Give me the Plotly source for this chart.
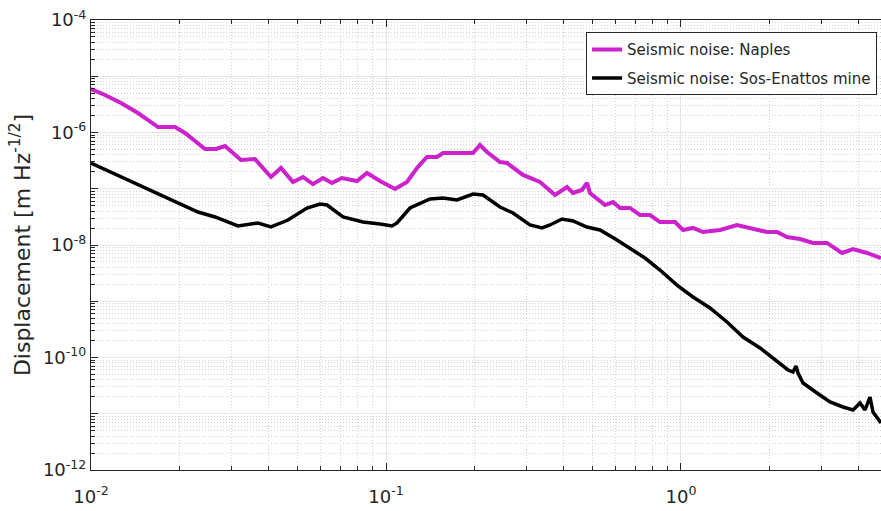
import plotly.graph_objects as go

# ---- data ----
naples_f = [0.01, 0.01115, 0.01264, 0.01443, 0.01687, 0.01927, 0.02083, 0.02435, 0.02653, 0.02846,
            0.03225, 0.03597, 0.04075, 0.04406, 0.04837, 0.05233, 0.05655, 0.06116, 0.0656, 0.07093,
            0.07974, 0.08622, 0.09544, 0.1073, 0.1178, 0.1274, 0.1377, 0.1489, 0.1561, 0.1781,
            0.1882, 0.1972, 0.2083, 0.22, 0.2435, 0.2572, 0.2913, 0.3327, 0.3741, 0.4108,
            0.4304, 0.4617, 0.4801, 0.4914, 0.5526, 0.5883, 0.6212, 0.6717, 0.7262, 0.7851,
            0.8488, 0.9544, 1.016, 1.098, 1.187, 1.356, 1.548, 1.713, 1.957, 2.116,
            2.288, 2.532, 2.803, 3.125, 3.514, 3.83, 4.272, 4.764]
naples_d = [5.93e-6, 4.64e-6, 3.34e-6, 2.22e-6, 1.25e-6, 1.25e-6, 9.80e-7, 5.09e-7, 5.09e-7, 5.75e-7,
            3.24e-7, 3.38e-7, 1.62e-7, 2.34e-7, 1.32e-7, 1.62e-7, 1.21e-7, 1.55e-7, 1.27e-7, 1.55e-7,
            1.37e-7, 1.91e-7, 1.37e-7, 9.90e-8, 1.32e-7, 2.34e-7, 3.67e-7, 3.67e-7, 4.32e-7, 4.32e-7,
            4.50e-7, 4.32e-7, 6.00e-7, 4.50e-7, 2.99e-7, 2.87e-7, 1.76e-7, 1.32e-7, 7.74e-8, 1.07e-7,
            8.40e-8, 9.50e-8, 1.27e-7, 8.40e-8, 5.14e-8, 5.81e-8, 4.55e-8, 4.55e-8, 3.41e-8, 3.41e-8,
            2.56e-8, 2.56e-8, 1.85e-8, 2.01e-8, 1.70e-8, 1.85e-8, 2.27e-8, 2.01e-8, 1.70e-8, 1.70e-8,
            1.39e-8, 1.28e-8, 1.09e-8, 1.09e-8, 7.21e-9, 8.49e-9, 7.21e-9, 5.87e-9]

sos_f = [0.01, 0.01264, 0.01648, 0.01972, 0.02305, 0.02633, 0.0315, 0.03682, 0.04075, 0.04653,
         0.05397, 0.05975, 0.0631, 0.0715, 0.08357, 0.09544, 0.1048, 0.109, 0.1206, 0.141,
         0.1561, 0.1741, 0.1972, 0.2132, 0.2435, 0.2695, 0.3077, 0.338, 0.3597, 0.3951,
         0.4304, 0.4801, 0.5314, 0.6069, 0.6717, 0.7551, 0.8488, 0.9692, 1.098, 1.254,
         1.432, 1.623, 1.853, 2.116, 2.306, 2.398, 2.454, 2.493, 2.592, 2.891,
         3.2, 3.541, 3.83, 4.045, 4.206, 4.373, 4.476, 4.764]
sos_d = [2.87e-7, 1.62e-7, 8.75e-8, 5.58e-8, 3.86e-8, 3.15e-8, 2.18e-8, 2.46e-8, 2.09e-8, 2.78e-8,
         4.55e-8, 5.36e-8, 5.14e-8, 3.15e-8, 2.56e-8, 2.36e-8, 2.18e-8, 2.46e-8, 4.55e-8, 6.57e-8,
         6.85e-8, 6.31e-8, 8.07e-8, 7.74e-8, 4.74e-8, 3.71e-8, 2.27e-8, 2.01e-8, 2.27e-8, 2.90e-8,
         2.67e-8, 2.09e-8, 1.85e-8, 1.23e-8, 8.84e-9, 5.87e-9, 3.59e-9, 1.94e-9, 1.19e-9, 7.59e-10,
         4.28e-10, 2.31e-10, 1.48e-10, 8.32e-11, 6.00e-11, 5.52e-11, 7.06e-11, 5.30e-11, 3.52e-11, 2.34e-11,
         1.62e-11, 1.32e-11, 1.17e-11, 1.55e-11, 1.17e-11, 1.98e-11, 1.07e-11, 6.85e-12]

x_ticks = [0.01, 0.1, 1]
x_labels = ["10<sup>-2</sup>", "10<sup>-1</sup>", "10<sup>0</sup>"]
y_ticks = [1e-12, 1e-11, 1e-10, 1e-9, 1e-8, 1e-7, 1e-6, 1e-5, 1e-4]
y_labels = ["10<sup>-12</sup>", "", "10<sup>-10</sup>", "", "10<sup>-8</sup>", "",
            "10<sup>-6</sup>", "", "10<sup>-4</sup>"]

TXT = "#262626"
FONT = "DejaVu Sans"

fig = go.Figure()
fig.add_trace(go.Scatter(x=naples_f, y=naples_d, mode="lines", name="Seismic noise: Naples",
                         line=dict(color="#cc22cc", width=4), legendgroup="a"))
fig.add_trace(go.Scatter(x=sos_f, y=sos_d, mode="lines", name="Seismic noise: Sos-Enattos mine",
                         line=dict(color="#000000", width=3.5), legendgroup="b"))

minor_common = dict(dtick="D1", showgrid=True, griddash="1px,2px", gridcolor="#d0d0d0", gridwidth=1,
                    ticks="inside", ticklen=4, tickcolor=TXT)

fig.update_xaxes(type="log", range=[-2, 0.678], tickvals=x_ticks, ticktext=x_labels,
                 showgrid=True, gridcolor="#e6e6e6", gridwidth=1,
                 ticks="inside", ticklen=7, tickcolor=TXT,
                 showline=True, linecolor=TXT, linewidth=1, mirror="ticks",
                 tickfont=dict(family=FONT, size=18, color=TXT), ticklabelstandoff=10,
                 minor=minor_common, zeroline=False)
fig.update_yaxes(type="log", range=[-12, -4], tickvals=y_ticks, ticktext=y_labels,
                 showgrid=True, gridcolor="#e6e6e6", gridwidth=1,
                 ticks="inside", ticklen=7, tickcolor=TXT,
                 showline=True, linecolor=TXT, linewidth=1, mirror=False,
                 tickfont=dict(family=FONT, size=18, color=TXT),
                 title=dict(text="Displacement [m Hz<sup>-1/2</sup>]",
                            font=dict(family=FONT, size=22, color=TXT), standoff=6),
                 minor=minor_common, zeroline=False)

fig.update_layout(width=881, height=511, margin=dict(l=91, r=0, t=20, b=41),
                  paper_bgcolor="white", plot_bgcolor="white",
                  font=dict(family=FONT, color=TXT),
                  legend=dict(x=0.995, y=0.973, xanchor="right", yanchor="top",
                              bgcolor="white", bordercolor=TXT, borderwidth=1,
                              font=dict(family=FONT, size=15, color=TXT),
                              traceorder="grouped", tracegroupgap=6))

fig.write_html("out.html")
